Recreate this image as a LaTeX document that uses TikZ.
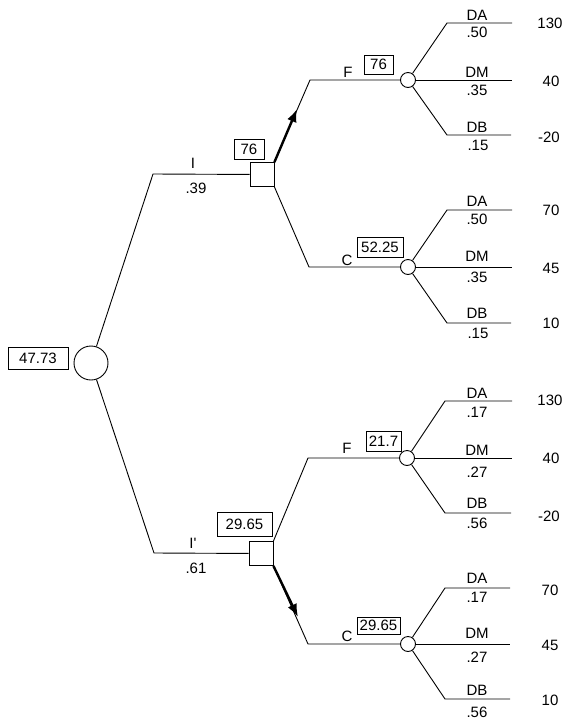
\documentclass[tikz,border=0pt]{standalone}
\usepackage{fontspec}
\setmainfont{Liberation Sans}
\usetikzlibrary{arrows.meta}
\begin{document}
\begin{tikzpicture}[x=1pt,y=-1pt,
  ln/.style={line width=0.9pt},
  chance/.style={circle,draw,line width=0.9pt,inner sep=0pt,minimum size=15pt},
  decision/.style={rectangle,draw,line width=0.9pt,inner sep=0pt,minimum size=24pt},
  valbox/.style={rectangle,draw,line width=0.8pt,inner sep=1pt,font=\fontsize{15}{17}\selectfont},
  lbl/.style={inner sep=0pt,font=\fontsize{15}{17}\selectfont},
  opt/.style={line width=2.4pt,-{Latex[length=13pt,width=10pt]}}
]
\useasboundingbox (0,0) rectangle (564,721);

% root
\node[chance,minimum size=34pt] (root) at (91,363) {};
\node[valbox,minimum width=60pt,minimum height=22pt] (v0) at (38,358) {47.73};

% ---------- upper decision ----------
\coordinate (uI) at (153,174);
\node[decision] (d1) at (262,174.5) {};
\draw[ln] (root) -- (uI) -- (d1);
\node[lbl] (lI) at (193,163) {I};
\node[lbl] (pI) at (196,188) {.39};
\node[valbox,minimum width=30pt,minimum height=20pt] (v1) at (249,149) {76};

% upper F
\coordinate (uF) at (310,80);
\coordinate (a1) at (297,109);
\node[chance] (c1) at (408,80) {};
\draw[ln] (d1.north east) -- (uF) -- (c1);
\draw[opt] (d1.north east) -- (a1);
\node[lbl] (lF1) at (348,72) {F};
\node[valbox,minimum width=29pt,minimum height=19pt] (v2) at (378.5,64.5) {76};
\coordinate (c1a) at (447,23);  \coordinate (c1ae) at (512,23);
\coordinate (c1me) at (512,80);
\coordinate (c1b) at (447,135); \coordinate (c1be) at (511,135);
\draw[ln] (c1) -- (c1a) -- (c1ae);
\draw[ln] (c1) -- (c1me);
\draw[ln] (c1) -- (c1b) -- (c1be);
\node[lbl] at (477,15) {DA};  \node[lbl] at (477,32) {.50};
\node[lbl] at (477,72) {DM};  \node[lbl] at (477,90) {.35};
\node[lbl] at (477,127) {DB}; \node[lbl] at (478,145) {.15};
\node[lbl] at (550,23) {130};
\node[lbl] at (551,81) {40};
\node[lbl] at (549,137) {-20};

% upper C
\coordinate (uC) at (309,267);
\node[chance] (c2) at (408,267) {};
\draw[ln] (d1.south east) -- (uC) -- (c2);
\node[lbl] (lC1) at (347,260) {C};
\node[valbox,minimum width=46pt,minimum height=20pt] (v3) at (380,247) {52.25};
\coordinate (c2a) at (447,210);  \coordinate (c2ae) at (512,210);
\coordinate (c2me) at (512,267);
\coordinate (c2b) at (447,323); \coordinate (c2be) at (511,323);
\draw[ln] (c2) -- (c2a) -- (c2ae);
\draw[ln] (c2) -- (c2me);
\draw[ln] (c2) -- (c2b) -- (c2be);
\node[lbl] at (477,201) {DA};  \node[lbl] at (477,219) {.50};
\node[lbl] at (477,256) {DM};  \node[lbl] at (477,277) {.35};
\node[lbl] at (477,313) {DB}; \node[lbl] at (478,333) {.15};
\node[lbl] at (551,210) {70};
\node[lbl] at (551,268) {45};
\node[lbl] at (551,323) {10};

% ---------- lower decision ----------
\coordinate (lIc) at (154,553);
\node[decision] (d2) at (261,553.5) {};
\draw[ln] (root) -- (lIc) -- (d2);
\node[lbl] (lI2) at (193,543) {I\textquotesingle};
\node[lbl] (pI2) at (196,568) {.61};
\node[valbox,minimum width=55pt,minimum height=24pt] (v4) at (244.5,524) {29.65};

% lower F
\coordinate (lF) at (308,458);
\node[chance] (c3) at (407,458) {};
\draw[ln] (d2.north east) -- (lF) -- (c3);
\node[lbl] (lF2) at (347,448) {F};
\node[valbox,minimum width=35pt,minimum height=20pt] (v5) at (383.5,441) {21.7};
\coordinate (c3a) at (445,401);  \coordinate (c3ae) at (512,401);
\coordinate (c3me) at (512,458);
\coordinate (c3b) at (445,513); \coordinate (c3be) at (511,513);
\draw[ln] (c3) -- (c3a) -- (c3ae);
\draw[ln] (c3) -- (c3me);
\draw[ln] (c3) -- (c3b) -- (c3be);
\node[lbl] at (477,393) {DA};  \node[lbl] at (477,412) {.17};
\node[lbl] at (477,450) {DM};  \node[lbl] at (477,472) {.27};
\node[lbl] at (477,503) {DB}; \node[lbl] at (477,523) {.56};
\node[lbl] at (550,400) {130};
\node[lbl] at (551,458) {40};
\node[lbl] at (549,516) {-20};

% lower C
\coordinate (lC) at (308,644);
\coordinate (a2) at (298,617);
\node[chance] (c4) at (408,644) {};
\draw[ln] (d2.south east) -- (lC) -- (c4);
\draw[opt] (d2.south east) -- (a2);
\node[lbl] (lC2) at (347,636) {C};
\node[valbox,minimum width=43pt,minimum height=17pt] (v6) at (378.5,625.5) {29.65};
\coordinate (c4a) at (445,588);  \coordinate (c4ae) at (510,588);
\coordinate (c4me) at (510,644);
\coordinate (c4b) at (445,699); \coordinate (c4be) at (510,699);
\draw[ln] (c4) -- (c4a) -- (c4ae);
\draw[ln] (c4) -- (c4me);
\draw[ln] (c4) -- (c4b) -- (c4be);
\node[lbl] at (477,578) {DA};  \node[lbl] at (477,597) {.17};
\node[lbl] at (477,633) {DM};  \node[lbl] at (477,657) {.27};
\node[lbl] at (477,690) {DB}; \node[lbl] at (477,712) {.56};
\node[lbl] at (550,590) {70};
\node[lbl] at (550,645) {45};
\node[lbl] at (550,700) {10};
\end{tikzpicture}
\end{document}
